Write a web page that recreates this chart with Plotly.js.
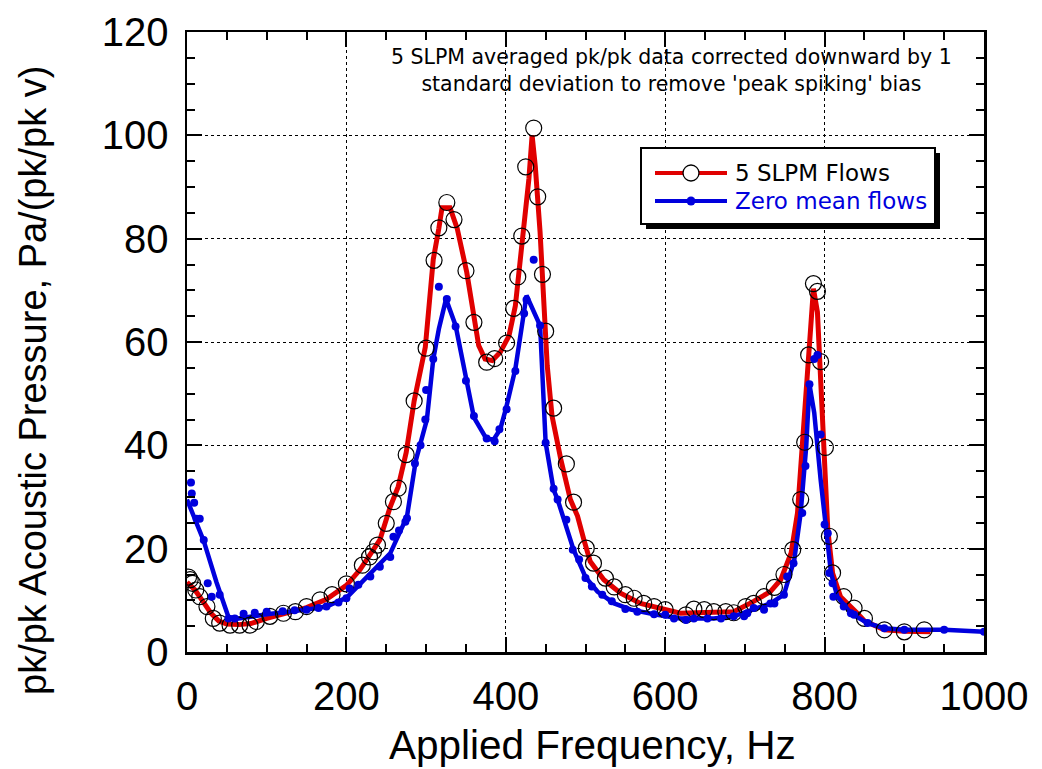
<!DOCTYPE html>
<html>
<head>
<meta charset="utf-8">
<script src="https://cdn.plot.ly/plotly-3.0.1.min.js"></script>
<style>html,body{margin:0;padding:0;background:#fff;}#chart{width:1042px;height:769px;}</style>
</head>
<body>
<div id="chart"></div>
<script>
// ---- Data ----
// 5 SLPM flows: measured points (open circles)
const slpmFreq = [2,4,7,11,16,25,33,41,54,66,79,87,104,121,136,150,167,182,200,220,229,234,239,250,259,265,275,285,300,310,316,326,335,350,360,376,386,401,410,415,420,425,435,440,446,450,460,476,485,501,510,525,536,550,561,573,586,600,626,636,649,661,676,686,701,711,724,737,749,760,770,775,780,786,791,795,801,806,810,824,837,850,875,900,925];
const slpmVal  = [14.5,14.0,13.3,12.0,10.7,8.8,6.5,5.6,5.2,5.2,5.2,5.9,6.9,7.5,7.8,8.8,10.1,11.1,13.2,16.8,18.4,19.4,20.7,24.9,29.1,31.7,38.2,48.6,58.8,75.8,82.1,87.0,83.7,73.8,63.8,56.1,56.8,59.8,66.5,72.6,80.5,93.9,101.4,88.1,73.1,62.1,47.2,36.4,29.0,20.1,17.2,14.3,12.6,11.1,10.4,9.4,8.8,8.2,7.2,8.3,8.2,7.8,7.8,7.6,8.8,9.4,10.7,12.5,15.0,19.8,29.5,40.6,57.5,71.3,69.8,56.2,39.6,22.4,15.3,10.7,8.5,6.5,4.3,3.9,4.3];
// 5 SLPM flows: drawn curve
const slpmCurveFreq = [0,10,20,30,40,50,65,80,100,125,150,175,200,217,242,255,265,275,285,299,309,316,320,330,339,351,360,366,374,383,393,404,412,416,422,429,433,437,443,448,452,458,469,481,490,498,506,523,544,569,598,619,661,686,711,732,745,758,766,772,778,783,786,791,794,800,804,810,820,841,850,875,900,933];
const slpmCurveVal  = [13.5,12.0,9.8,7.5,6.0,5.4,5.3,5.5,6.5,7.5,8.6,10.2,12.9,15.9,21.7,28.1,32.0,38.6,48.6,59.0,76.0,82.0,86.0,86.0,82.0,73.5,64.5,59.3,56.7,56.4,58.0,61.2,67.0,72.9,81.3,91.6,100.0,94.0,81.3,68.3,55.4,45.7,37.3,29.5,26.3,21.7,17.5,14.0,11.4,9.4,8.2,7.5,7.7,7.8,9.8,11.7,14.0,19.2,26.9,39.9,56.0,65.8,70.3,65.8,56.0,39.9,23.7,15.3,10.7,7.5,6.0,4.3,4.0,3.9];

// Zero mean flows: measured points (filled dots)
const zeroFreq = [5,6,9,12,16,21,26,31,41,52,60,71,85,100,120,135,150,165,175,190,200,204,215,230,242,255,259,266,274,276,286,293,299,300,309,316,326,337,350,360,376,386,392,401,412,423,426,435,443,450,460,465,476,484,492,500,508,521,533,550,565,586,600,611,626,636,653,670,686,699,703,711,724,732,737,749,753,761,772,776,781,787,791,795,800,804,806,810,811,824,833,837,854,875,900,950,1000];
const zeroVal  = [32.8,30.7,28.9,25.8,25.8,21.7,13.3,10.7,11.1,6.5,6.5,7.4,7.6,7.8,7.9,8.1,8.2,8.5,8.8,9.6,10.4,12.3,13.0,14.6,16.5,18.4,22.3,23.5,25.2,25.9,36.5,40.0,45.0,50.7,56.7,70.7,68.3,63.0,52.5,45.7,41.3,40.8,43.1,47.0,54.4,65.5,68.2,75.9,63.2,40.5,31.6,29.5,25.6,19.8,17.9,14.3,12.7,11.1,9.8,8.3,7.8,7.3,7.2,6.5,6.2,6.5,6.5,6.5,6.9,6.9,7.5,8.5,8.2,9.4,9.4,11.1,14.6,17.2,26.9,36.0,51.8,56.7,57.5,42.1,24.7,23.0,15.3,13.3,10.7,8.8,7.5,7.2,5.6,4.6,4.3,4.3,3.9];
// Zero mean flows: drawn curve
const zeroCurveFreq = [0,11,21,37,52,65,85,100,150,175,200,225,255,276,287,301,309,316,325,337,351,360,376,385,393,400,412,426,443,450,460,465,485,500,515,536,557,586,619,661,686,711,732,749,762,770,777,781,787,795,802,808,816,833,854,875,900,950,1000];
const zeroCurveVal  = [29.5,25.5,21.5,13.5,6.8,6.5,7.0,7.3,8.2,8.8,10.5,14.3,19.1,26.2,37.0,45.0,56.7,62.5,68.3,63.2,52.5,45.4,41.2,41.2,43.1,47.0,54.8,69.0,63.2,40.5,31.4,29.5,19.8,14.5,11.7,9.4,8.2,7.3,6.5,6.5,6.9,8.2,9.4,11.1,17.9,26.9,39.9,51.8,46.3,33.4,23.7,15.3,10.7,7.5,5.6,4.6,4.3,4.3,3.9];

const seriesNames = ['5 SLPM Flows', 'Zero mean flows'];
const xTitle = 'Applied Frequency, Hz';
const yTitle = 'pk/pk Acoustic Pressure, Pa/(pk/pk v)';
const noteText = "5 SLPM averaged pk/pk data corrected downward by 1<br>standard deviation to remove 'peak spiking' bias";

// ---- Layout geometry (pixels) ----
const W = 1042, H = 769;
const L = 187, R = 984, T = 32, B = 652;
const px = x => (x - L) / (R - L);   // pixel -> paper x
const py = y => (B - y) / (B - T);   // pixel -> paper y

const RED = '#e00000', BLUE = '#0000dd';

const traces = [
  {x: slpmCurveFreq, y: slpmCurveVal, mode: 'lines', line: {color: RED, width: 5}, showlegend: false, hoverinfo: 'skip'},
  {x: zeroCurveFreq, y: zeroCurveVal, mode: 'lines', line: {color: BLUE, width: 4.5}, showlegend: false, hoverinfo: 'skip'},
  {x: slpmFreq, y: slpmVal, mode: 'markers', name: seriesNames[0],
   marker: {symbol: 'circle-open', size: 16, color: '#000', line: {width: 1.2, color: '#000'}}, showlegend: false},
  {x: zeroFreq, y: zeroVal, mode: 'markers', name: seriesNames[1],
   marker: {symbol: 'circle', size: 8, color: BLUE}, showlegend: false}
];

const tickFont = {family: 'Liberation Sans, Arial, sans-serif', size: 40, color: '#000'};

const axisCommon = {
  showline: true, linecolor: '#000', linewidth: 2.5, mirror: 'allticks',
  ticks: 'inside', ticklen: 15, tickwidth: 2, tickcolor: '#000',
  showgrid: true, gridcolor: '#000', gridwidth: 1, griddash: 'dot',
  zeroline: false, tickfont: tickFont, fixedrange: true
};

// legend geometry in pixels
const lg = {x0: 641, x1: 935, y0: 148, y1: 224, sh: 5, lineX0: 655, lineX1: 727, symX: 691, textX: 733, row1: 173, row2: 201};

const shapes = [
  {type: 'rect', xref: 'paper', yref: 'paper', x0: px(lg.x0 + lg.sh), x1: px(lg.x1 + lg.sh), y0: py(lg.y0 + lg.sh), y1: py(lg.y1 + lg.sh), fillcolor: '#000', line: {width: 0}, layer: 'above'},
  {type: 'rect', xref: 'paper', yref: 'paper', x0: px(lg.x0), x1: px(lg.x1), y0: py(lg.y0), y1: py(lg.y1), fillcolor: '#fff', line: {color: '#000', width: 2}, layer: 'above'},
  {type: 'line', xref: 'paper', yref: 'paper', x0: px(lg.lineX0), x1: px(lg.lineX1), y0: py(lg.row1), y1: py(lg.row1), line: {color: RED, width: 4}, layer: 'above'},
  {type: 'circle', xref: 'paper', yref: 'paper', xsizemode: 'pixel', ysizemode: 'pixel', xanchor: px(lg.symX), yanchor: py(lg.row1), x0: -8, x1: 8, y0: -8, y1: 8, fillcolor: '#fff', line: {color: '#000', width: 1.3}, layer: 'above'},
  {type: 'line', xref: 'paper', yref: 'paper', x0: px(lg.lineX0), x1: px(lg.lineX1), y0: py(lg.row2), y1: py(lg.row2), line: {color: BLUE, width: 4}, layer: 'above'},
  {type: 'circle', xref: 'paper', yref: 'paper', xsizemode: 'pixel', ysizemode: 'pixel', xanchor: px(lg.symX), yanchor: py(lg.row2), x0: -4.5, x1: 4.5, y0: -4.5, y1: 4.5, fillcolor: BLUE, line: {color: BLUE, width: 0}, layer: 'above'}
];

const legFont = {family: 'DejaVu Sans, Verdana, sans-serif', size: 23};
const annotations = [
  {xref: 'paper', yref: 'paper', x: px(lg.textX), y: py(lg.row1), xanchor: 'left', yanchor: 'middle', showarrow: false, text: seriesNames[0], font: Object.assign({color: '#000'}, legFont)},
  {xref: 'paper', yref: 'paper', x: px(lg.textX), y: py(lg.row2), xanchor: 'left', yanchor: 'middle', showarrow: false, text: seriesNames[1], font: Object.assign({color: BLUE}, legFont)},
  {xref: 'paper', yref: 'paper', x: px(671), y: py(71), xanchor: 'center', yanchor: 'middle', showarrow: false, align: 'center', text: noteText, font: {family: 'DejaVu Sans, Verdana, sans-serif', size: 20.5, color: '#000'}},
  {xref: 'paper', yref: 'paper', x: px(592), y: py(745), xanchor: 'center', yanchor: 'middle', showarrow: false, text: xTitle, font: {family: 'Liberation Sans, Arial, sans-serif', size: 40.5, color: '#000'}},
  {xref: 'paper', yref: 'paper', x: px(33), y: py(381), xanchor: 'center', yanchor: 'middle', showarrow: false, textangle: -90, text: yTitle, font: {family: 'Liberation Sans, Arial, sans-serif', size: 38, color: '#000'}}
];

const layout = {
  width: W, height: H,
  margin: {l: L, r: W - R, t: T, b: H - B, pad: 0},
  paper_bgcolor: '#fff', plot_bgcolor: '#fff',
  showlegend: false,
  xaxis: Object.assign({}, axisCommon, {range: [0, 1000], dtick: 200, tick0: 0, ticklabelstandoff: 7,
    minor: {dtick: 50, ticks: 'inside', ticklen: 8, tickwidth: 2, tickcolor: '#000', showgrid: false}}),
  yaxis: Object.assign({}, axisCommon, {range: [0, 120], dtick: 20, tick0: 0, ticksuffix: '\u2009',
    minor: {dtick: 5, ticks: 'inside', ticklen: 8, tickwidth: 2, tickcolor: '#000', showgrid: false}}),
  shapes: shapes,
  annotations: annotations
};

Plotly.newPlot('chart', traces, layout, {displayModeBar: false, staticPlot: true});
</script>
</body>
</html>
